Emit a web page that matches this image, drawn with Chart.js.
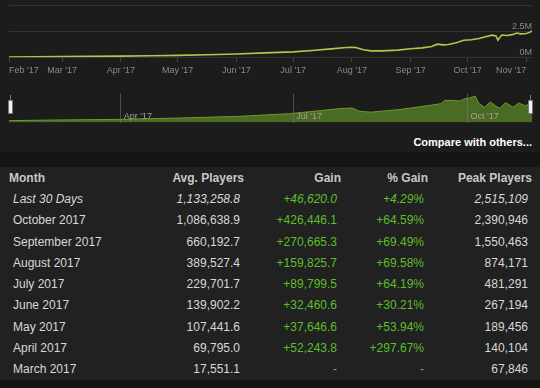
<!DOCTYPE html>
<html>
<head>
<meta charset="utf-8">
<script src="https://cdn.jsdelivr.net/npm/chart.js"></script>
<style>
  html, body { margin: 0; padding: 0; }
  body { width: 540px; height: 388px; background: #1c1c1c; position: relative; overflow: hidden;
         font-family: Arial, "Liberation Sans", Helvetica, sans-serif; }
  #mainChart { position: absolute; left: 0; top: 0; }
  #navChart { position: absolute; left: 0; top: 90px; }
  #compare { position: absolute; right: 8px; top: 136px; color: #fff; font-weight: bold; font-size: 11px; }
  #band { position: absolute; left: 0; top: 152px; width: 540px; height: 15px; background: #151515; }
  #foot { position: absolute; left: 0; top: 380px; width: 540px; height: 8px; background: #141414; }
  #stats { position: absolute; left: 0; top: 167px; width: 532px; border-collapse: collapse; table-layout: fixed;
           font-size: 12px; color: #d8d8d8; }
  #statsWrap { position: absolute; left: 0; top: 167px; width: 540px; height: 213px; background: #212121; }
  #stats tr { height: 21.3px; }
  #stats th { font-weight: bold; color: #c8c8c8; text-align: right; padding: 0; }
  #stats td { text-align: right; padding: 0 4px 0 0; white-space: nowrap; }
  #stats th:first-child { text-align: left; padding-left: 9px; }
  #stats td:first-child { text-align: left; padding-left: 13px; }
  #stats td.up { color: #5cbf2a; }
  #stats td.none { color: #9a9a9a; }
  #stats tr.recent td { font-style: italic; }
</style>
</head>
<body>
<canvas id="mainChart" width="540" height="79"></canvas>
<canvas id="navChart" width="540" height="34"></canvas>
<div id="compare">Compare with others...</div>
<div id="band"></div>
<div id="statsWrap"></div>
<table id="stats">
  <colgroup><col style="width:130px"><col style="width:114px"><col style="width:97px"><col style="width:87px"><col style="width:104px"></colgroup>
  <thead><tr><th>Month</th><th>Avg. Players</th><th>Gain</th><th>% Gain</th><th>Peak Players</th></tr></thead>
  <tbody id="statsBody"></tbody>
</table>
<div id="foot"></div>
<script>
// day 0 = 1 Feb 2017
const days = [0,14,28,42,59,75,89,105,120,135,150,160,170,178,181,183,187,191,197,205,212,218,223,226,229,232,236,240,244,248,252,255,257,258,260,263,266,268,270,273,275,276];
const players = [25000,35000,60000,80000,105000,140000,175000,230000,310000,420000,510000,640000,800000,930000,955000,930000,720000,610000,610000,680000,820000,900000,1040000,1260000,1190000,1230000,1400000,1630000,1680000,1800000,2000000,2130000,2050000,1650000,2140000,2100000,2200000,2330000,2250000,2280000,2420000,2550000];

// navigator strip under the chart
const navDays = [0,27,59,90,122,148,175,181,185,191,206,222,228,230,238,241,243,246,248,251,254,257,259,262,266,269,272,275,276];
const navPlayers = [160000,220000,270000,385000,535000,760000,1200000,1250000,965000,890000,1115000,1470000,1625000,1920000,1860000,2070000,2100000,2280000,1625000,1320000,1770000,1410000,1230000,1715000,1320000,1680000,1470000,1535000,1560000];

const monthTicks = [0,28,59,89,120,150,181,212,242,273];
const monthLabels = ["Feb '17","Mar '17","Apr '17","May '17","Jun '17","Jul '17","Aug '17","Sep '17","Oct '17","Nov '17"];
const navTicks = [59,150,242];
const navLabels = ["Apr '17","Jul '17","Oct '17"];
const yTicks = [0,2500000,5000000];
const yLabels = ["0M","2.5M",""];

// table
const months = ["Last 30 Days","October 2017","September 2017","August 2017","July 2017","June 2017","May 2017","April 2017","March 2017"];
const avgPlayers = [1133258.8,1086638.9,660192.7,389527.4,229701.7,139902.2,107441.6,69795.0,17551.1];
const gains = [46620.0,426446.1,270665.3,159825.7,89799.5,32460.6,37646.6,52243.8,null];
const pctGains = [4.29,64.59,69.49,69.58,64.19,30.21,53.94,297.67,null];
const peakPlayers = [2515109,2390946,1550463,874171,481291,267194,189456,140104,67846];

var tickFont = { family: 'Arial, "Liberation Sans", sans-serif', size: 9 };

function fmt(v, d) {
  return v.toLocaleString('en-US', { minimumFractionDigits: d, maximumFractionDigits: d });
}

new Chart(document.getElementById('mainChart'), {
  type: 'line',
  data: {
    datasets: [{
      data: days.map((d, i) => ({ x: d, y: players[i] })),
      borderColor: '#a6cc4c',
      borderWidth: 1.6,
      pointRadius: 0,
      tension: 0,
      fill: false
    }]
  },
  options: {
    responsive: false,
    animation: false,
    layout: { padding: { left: 9, right: 8, top: 3, bottom: 0 } },
    plugins: { legend: { display: false }, tooltip: { enabled: false } },
    scales: {
      x: {
        type: 'linear', min: 0, max: 276,
        afterBuildTicks: s => { s.ticks = monthTicks.map(v => ({ value: v })); },
        ticks: {
          autoSkip: false, maxRotation: 0, align: 'inner', padding: 3,
          color: '#8a8a8a', font: tickFont,
          callback: v => monthLabels[monthTicks.indexOf(v)]
        },
        grid: { drawOnChartArea: false, color: '#444', tickLength: 5 },
        border: { display: false }
      },
      y: {
        position: 'right', min: 0, max: 5000000,
        afterBuildTicks: s => { s.ticks = yTicks.map(v => ({ value: v })); },
        ticks: {
          mirror: true, padding: 0, labelOffset: -5,
          color: '#8a8a8a', font: tickFont,
          callback: v => yLabels[yTicks.indexOf(v)]
        },
        grid: { color: '#333', drawTicks: false },
        border: { display: false }
      }
    }
  }
});

// little white drag handles at both ends of the navigator
const handles = {
  id: 'handles',
  afterDraw(chart) {
    const c = chart.ctx, a = chart.chartArea;
    c.save();
    c.strokeStyle = '#777';
    c.fillStyle = '#f2f2f2';
    [a.left - 1, a.right - 4].forEach(x => {
      c.beginPath();
      c.moveTo(x + 2.5, 5); c.lineTo(x + 2.5, 10);
      c.stroke();
      c.fillRect(x, 10, 5, 14);
      c.strokeRect(x + 0.5, 10.5, 4, 13);
    });
    c.restore();
  }
};

new Chart(document.getElementById('navChart'), {
  type: 'line',
  data: {
    datasets: [{
      data: navDays.map((d, i) => ({ x: d, y: navPlayers[i] })),
      borderColor: '#6f9a2f',
      backgroundColor: '#4b6a22',
      borderWidth: 1,
      pointRadius: 0,
      tension: 0,
      fill: 'origin'
    }]
  },
  options: {
    responsive: false,
    animation: false,
    layout: { padding: { left: 9, right: 8, top: 3.5, bottom: 1.5 } },
    plugins: { legend: { display: false }, tooltip: { enabled: false } },
    scales: {
      x: {
        type: 'linear', min: 0, max: 276,
        afterBuildTicks: s => { s.ticks = navTicks.map(v => ({ value: v })); },
        ticks: {
          z: 1, autoSkip: false, maxRotation: 0, align: 'start', labelOffset: 3, padding: -11,
          color: '#a0a0a0', font: tickFont,
          callback: v => navLabels[navTicks.indexOf(v)]
        },
        grid: { z: 1, color: 'rgba(120,120,120,0.55)', drawTicks: false },
        border: { display: false }
      },
      y: { display: false, min: 0, max: 2500000 }
    }
  },
  plugins: [handles]
});

var body = document.getElementById('statsBody');
months.forEach(function (m, i) {
  var tr = document.createElement('tr');
  if (i === 0) tr.className = 'recent';
  var cells = [
    [m, ''],
    [fmt(avgPlayers[i], 1), ''],
    gains[i] === null ? ['-', 'none'] : ['+' + fmt(gains[i], 1), 'up'],
    pctGains[i] === null ? ['-', 'none'] : ['+' + fmt(pctGains[i], 2) + '%', 'up'],
    [fmt(peakPlayers[i], 0), '']
  ];
  cells.forEach(function (c) {
    var td = document.createElement('td');
    td.textContent = c[0];
    if (c[1]) td.className = c[1];
    tr.appendChild(td);
  });
  body.appendChild(tr);
});
</script>
</body>
</html>
